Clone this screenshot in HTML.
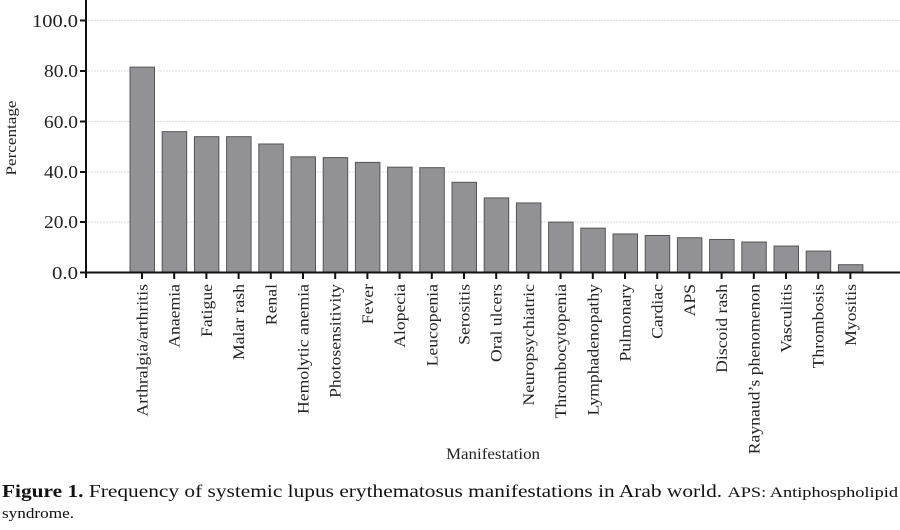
<!DOCTYPE html>
<html><head><meta charset="utf-8"><style>
body{margin:0;background:#fff;width:900px;height:525px;overflow:hidden}
</style></head><body>
<svg width="900" height="525" xmlns="http://www.w3.org/2000/svg" font-family="'Liberation Serif',serif">
<g stroke="#ddd" stroke-dasharray="2,1" stroke-width="1">
<line x1="88" x2="900" y1="20.5" y2="20.5"/><line x1="88" x2="900" y1="71" y2="71"/><line x1="88" x2="900" y1="121.5" y2="121.5"/><line x1="88" x2="900" y1="172" y2="172"/><line x1="88" x2="900" y1="222" y2="222"/>
</g>
<g id="bars" fill="#929296" stroke="#555" stroke-width="1"></g>
<line x1="86" y1="0" x2="86" y2="278" stroke="#111" stroke-width="2"/>
<line x1="80" y1="272.5" x2="900" y2="272.5" stroke="#111" stroke-width="2"/>
<g font-size="18" text-anchor="end" fill="#222">
<text x="78" y="27" textLength="46" lengthAdjust="spacingAndGlyphs">100.0</text><text x="78" y="77" textLength="34" lengthAdjust="spacingAndGlyphs">80.0</text><text x="78" y="128" textLength="34" lengthAdjust="spacingAndGlyphs">60.0</text><text x="78" y="178" textLength="34" lengthAdjust="spacingAndGlyphs">40.0</text><text x="78" y="228" textLength="34" lengthAdjust="spacingAndGlyphs">20.0</text><text x="78" y="279" textLength="26" lengthAdjust="spacingAndGlyphs">0.0</text>
</g>
<g stroke="#111" stroke-width="2"><line x1="80" x2="86" y1="20.5" y2="20.5"/><line x1="80" x2="86" y1="71" y2="71"/><line x1="80" x2="86" y1="121.5" y2="121.5"/><line x1="80" x2="86" y1="172" y2="172"/><line x1="80" x2="86" y1="222" y2="222"/></g>
<g id="ticks" stroke="#111" stroke-width="2"></g>
<g id="labels" font-size="15.5" text-anchor="end" fill="#222"></g>
<text transform="translate(16,138) rotate(-90)" font-size="15" text-anchor="middle" fill="#222" textLength="75" lengthAdjust="spacingAndGlyphs">Percentage</text>
<text x="493" y="459" font-size="15.5" text-anchor="middle" fill="#222" textLength="94" lengthAdjust="spacingAndGlyphs">Manifestation</text>
<text x="2" y="497" font-size="17.5" fill="#111" textLength="896" lengthAdjust="spacingAndGlyphs"><tspan font-weight="bold">Figure 1.</tspan> Frequency of systemic lupus erythematosus manifestations in Arab world. <tspan font-size="15">APS: Antiphospholipid</tspan></text>
<text x="2" y="518" font-size="15" fill="#111" textLength="72" lengthAdjust="spacingAndGlyphs">syndrome.</text>
</svg>
<script>
var v=[81.3,55.7,53.7,53.7,50.8,45.7,45.4,43.5,41.6,41.4,35.6,29.4,27.4,19.8,17.4,15.1,14.5,13.6,12.9,11.9,10.3,8.3,2.9];
var l=["Arthralgia/arthritis","Anaemia","Fatigue","Malar rash","Renal","Hemolytic anemia","Photosensitivity","Fever","Alopecia","Leucopenia","Serositis","Oral ulcers","Neuropsychiatric","Thrombocytopenia","Lymphadenopathy","Pulmonary","Cardiac","APS","Discoid rash","Raynaud\u2019s phenomenon","Vasculitis","Thrombosis","Myositis"];
var ns="http://www.w3.org/2000/svg",b=document.getElementById("bars"),t=document.getElementById("ticks"),lb=document.getElementById("labels");
v.forEach(function(d,i){var cx=142+i*32.2,h=d*2.52;
var r=document.createElementNS(ns,"rect");r.setAttribute("x",cx-12);r.setAttribute("y",272-h);r.setAttribute("width",24.5);r.setAttribute("height",h);b.appendChild(r);
var k=document.createElementNS(ns,"line");k.setAttribute("x1",cx);k.setAttribute("x2",cx);k.setAttribute("y1",272);k.setAttribute("y2",279);t.appendChild(k);
var s=document.createElementNS(ns,"text");s.setAttribute("transform","translate("+(cx+5.5)+",284) rotate(-90)");s.textContent=l[i];lb.appendChild(s);
var len=s.getComputedTextLength();s.setAttribute("textLength",len*1.14);s.setAttribute("lengthAdjust","spacingAndGlyphs");});
</script>
</body></html>
